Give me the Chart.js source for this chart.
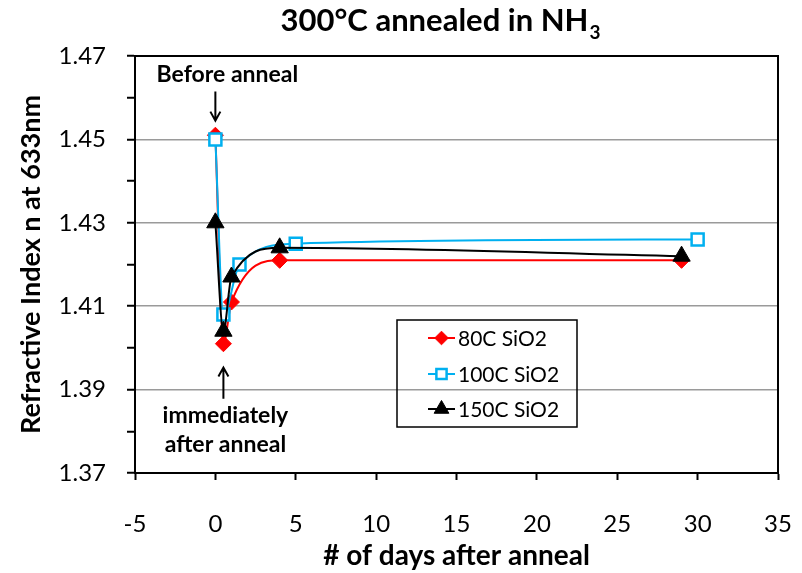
<!DOCTYPE html>
<html>
<head>
<meta charset="utf-8">
<script src="https://cdn.jsdelivr.net/npm/chart.js@4"></script>
<style>
  html, body { margin: 0; padding: 0; background: #fff; }
  #wrap { width: 802px; height: 573px; }
</style>
</head>
<body>
<div id="wrap"><canvas id="myChart" width="802" height="573"></canvas></div>
<script>
// data
const days80 = [0, 0.5, 1, 4, 29];
const n80 = [1.451, 1.401, 1.411, 1.421, 1.421];
const days100 = [0, 0.5, 1.5, 5, 30];
const n100 = [1.450, 1.408, 1.420, 1.425, 1.426];
const days150 = [0, 0.5, 1, 4, 29];
const n150 = [1.430, 1.404, 1.417, 1.424, 1.422];
const seriesNames = ['80C SiO2', '100C SiO2', '150C SiO2'];
const xTicks = [-5, 0, 5, 10, 15, 20, 25, 30, 35];
const yTicks = [1.37, 1.39, 1.41, 1.43, 1.45, 1.47];

const FONT = 'Lato, "Open Sans", sans-serif';

function pts(xs, ys) {
    return xs.map((x, i) => ({x: x, y: ys[i]}));
}

const isLabelled = v => yTicks.some(t => Math.abs(t - v) < 1e-6);

// title, plot frame, notes and legend
const extras = {
    id: 'extras',
    afterDraw(chart) {
        const c = chart.ctx;
        const a = chart.chartArea;
        const xs = chart.scales.x, ys = chart.scales.y;
        c.save();
        // frame
        c.strokeStyle = '#000';
        c.lineWidth = 2;
        c.strokeRect(a.left, a.top, a.right - a.left, a.bottom - a.top);

        // title with subscript
        c.fillStyle = '#000';
        c.textBaseline = 'alphabetic';
        const main = '300°C annealed in NH';
        c.font = 'bold 31px ' + FONT;
        const w1 = c.measureText(main).width;
        c.font = 'bold 19px ' + FONT;
        const w2 = c.measureText('3').width;
        let tx = 440 - (w1 + w2) / 2;
        c.textAlign = 'left';
        c.font = 'bold 31px ' + FONT;
        c.fillText(main, tx, 31);
        c.font = 'bold 19px ' + FONT;
        c.fillText('3', tx + w1 + 1, 39);

        // notes
        c.font = 'bold 23px ' + FONT;
        c.textAlign = 'center';
        c.textBaseline = 'middle';
        const x0 = xs.getPixelForValue(days80[0]);
        const x1 = xs.getPixelForValue(days80[1]);
        c.fillText('Before anneal', x0 + 12, ys.getPixelForValue(1.4655));
        c.fillText('immediately', x1 + 2, ys.getPixelForValue(1.3837));
        c.fillText('after anneal', x1 + 2, ys.getPixelForValue(1.3767));

        c.lineWidth = 2;
        function arrow(x, yFrom, yTo) {
            c.beginPath();
            c.moveTo(x, yFrom);
            c.lineTo(x, yTo);
            const d = yTo > yFrom ? -1 : 1;
            c.moveTo(x - 5, yTo + d * 9);
            c.lineTo(x, yTo);
            c.lineTo(x + 5, yTo + d * 9);
            c.stroke();
        }
        arrow(x0, ys.getPixelForValue(1.4615), ys.getPixelForValue(1.4545));
        arrow(x1, ys.getPixelForValue(1.3878), ys.getPixelForValue(1.3953));

        // legend
        const lx = 397, ly = 320, lw = 180, lh = 107;
        c.lineWidth = 1.5;
        c.strokeStyle = '#000';
        c.strokeRect(lx, ly, lw, lh);
        c.font = '21px ' + FONT;
        c.textAlign = 'left';
        c.textBaseline = 'middle';
        const rowY = [338, 374, 409];
        chart.data.datasets.forEach((ds, i) => {
            const y = rowY[i];
            c.strokeStyle = ds.borderColor;
            c.lineWidth = 2;
            c.beginPath();
            c.moveTo(428, y);
            c.lineTo(455, y);
            c.stroke();
            c.fillStyle = ds.pointBackgroundColor;
            c.strokeStyle = ds.pointBorderColor;
            c.lineWidth = ds.pointBorderWidth;
            Chart.helpers.drawPoint(c, {
                pointStyle: ds.pointStyle,
                radius: ds.pointRadius * 0.85,
                borderWidth: ds.pointBorderWidth,
                rotation: 0
            }, 441.5, y);
            c.fillStyle = '#000';
            c.fillText(ds.label, 458, y + 1);
        });
        c.restore();
    }
};

const ctx = document.getElementById('myChart');
const myChart = new Chart(ctx, {
    type: 'scatter',
    data: {
        datasets: [{
            label: seriesNames[0],
            data: pts(days80, n80),
            showLine: true,
            borderColor: '#ff0000',
            borderWidth: 2,
            pointStyle: 'rectRot',
            pointRadius: 8,
            pointBackgroundColor: '#ff0000',
            pointBorderColor: '#ff0000',
            pointBorderWidth: 1,
            cubicInterpolationMode: 'monotone',
            order: 2
        }, {
            label: seriesNames[1],
            data: pts(days100, n100),
            showLine: true,
            borderColor: '#00b0f0',
            borderWidth: 2,
            pointStyle: 'rect',
            pointRadius: 8.5,
            pointBackgroundColor: '#ffffff',
            pointBorderColor: '#00b0f0',
            pointBorderWidth: 2.5,
            cubicInterpolationMode: 'monotone',
            order: 1
        }, {
            label: seriesNames[2],
            data: pts(days150, n150),
            showLine: true,
            borderColor: '#000000',
            borderWidth: 2,
            pointStyle: 'triangle',
            pointRadius: 10,
            pointBackgroundColor: '#000000',
            pointBorderColor: '#000000',
            pointBorderWidth: 1,
            cubicInterpolationMode: 'monotone',
            order: 0
        }]
    },
    options: {
        responsive: false,
        animation: false,
        layout: {
            padding: {top: 56, right: 24, left: 0, bottom: 0}
        },
        scales: {
            x: {
                type: 'linear',
                min: xTicks[0],
                max: xTicks[xTicks.length - 1],
                afterFit(scale) {
                    scale.height = 100;
                    scale.paddingLeft = 0;
                    scale.paddingRight = 0;
                },
                afterBuildTicks(scale) { scale.ticks = xTicks.map(v => ({value: v})); },
                grid: {
                    drawOnChartArea: false,
                    tickLength: 7,
                    tickColor: '#000',
                    tickWidth: 2
                },
                border: {color: '#000', width: 2},
                ticks: {
                    color: '#000',
                    font: {family: FONT, size: 24},
                    padding: 30,
                    maxRotation: 0
                },
                title: {
                    display: true,
                    text: '# of days after anneal',
                    color: '#000',
                    font: {family: FONT, size: 28, weight: 'bold'},
                    padding: {top: 0, bottom: 0}
                }
            },
            y: {
                min: yTicks[0],
                max: yTicks[yTicks.length - 1],
                afterFit(scale) { scale.width = 135; },
                afterBuildTicks(scale) {
                    const t = [];
                    for (let k = 0; k <= 10; k++) t.push({value: Math.round((yTicks[0] + k * 0.01) * 100) / 100});
                    scale.ticks = t;
                },
                grid: {
                    color: c => (isLabelled(c.tick.value) ? '#9a9a9a' : 'rgba(0,0,0,0)'),
                    lineWidth: 1.5,
                    tickLength: 8,
                    tickColor: '#000',
                    tickWidth: 2
                },
                border: {color: '#000', width: 2},
                ticks: {
                    autoSkip: false,
                    color: '#000',
                    font: {family: FONT, size: 24},
                    padding: 21,
                    callback: v => (isLabelled(v) ? v.toFixed(2) : '')
                },
                title: {
                    display: true,
                    text: 'Refractive Index n at 633nm',
                    color: '#000',
                    font: {family: FONT, size: 27, weight: 'bold'},
                    padding: {top: 15, bottom: 0}
                }
            }
        },
        plugins: {
            legend: {display: false},
            title: {display: false},
            tooltip: {enabled: false}
        }
    },
    plugins: [extras]
});
</script>
</body>
</html>
